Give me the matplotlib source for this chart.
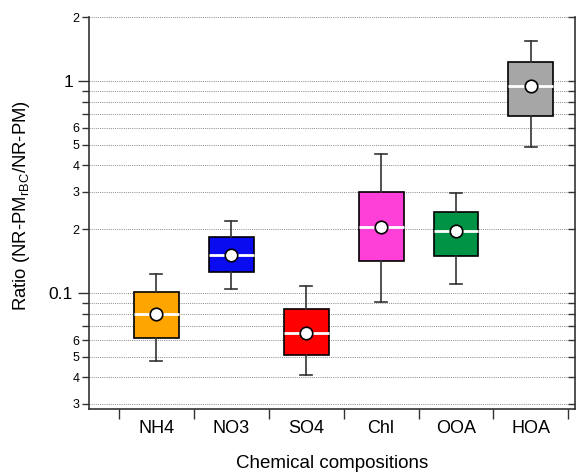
import matplotlib
matplotlib.use("Agg")
import matplotlib.pyplot as plt
from matplotlib.ticker import FixedLocator, FixedFormatter, NullFormatter

categories = ["NH4", "NO3", "SO4", "Chl", "OOA", "HOA"]
whisker_low = [0.048, 0.104, 0.041, 0.091, 0.110, 0.486]
q1 = [0.0615, 0.125, 0.0512, 0.142, 0.150, 0.681]
median = [0.080, 0.151, 0.065, 0.204, 0.195, 0.947]
q3 = [0.1015, 0.183, 0.0843, 0.301, 0.241, 1.229]
whisker_high = [0.123, 0.219, 0.108, 0.453, 0.297, 1.55]
mean = [0.080, 0.151, 0.065, 0.204, 0.195, 0.950]
colors = ["#FFA500", "#0B0BF0", "#FF0000", "#FF40D8", "#009245", "#A6A6A6"]

major_ticks = [0.1, 1]
major_labels = ["0.1", "1"]
minor_ticks = [0.03, 0.04, 0.05, 0.06, 0.07, 0.08, 0.09,
               0.2, 0.3, 0.4, 0.5, 0.6, 0.7, 0.8, 0.9, 2]
minor_labels = ["3", "4", "5", "6", "", "", "",
                "2", "3", "4", "5", "6", "", "", "", "2"]

plt.rcParams['font.family'] = ['Liberation Sans', 'DejaVu Sans']
plt.rcParams['mathtext.fontset'] = 'custom'
plt.rcParams['mathtext.rm'] = 'Liberation Sans'
plt.rcParams['mathtext.it'] = 'Liberation Sans'

fig = plt.figure(figsize=(5.78, 4.76), dpi=100)
ax = fig.add_axes([0.154, 0.141, 0.841, 0.823])

stats = []
for i, c in enumerate(categories):
    stats.append(dict(label=c, whislo=whisker_low[i], q1=q1[i], med=median[i],
                      q3=q3[i], whishi=whisker_high[i], mean=mean[i], fliers=[]))

bp = ax.bxp(stats, positions=range(len(categories)), widths=0.6, capwidths=0.16,
            patch_artist=True, showmeans=True, showfliers=False,
            boxprops=dict(edgecolor="black", linewidth=1.2),
            whiskerprops=dict(color="#333333", linewidth=1.2),
            capprops=dict(color="#333333", linewidth=1.2),
            medianprops=dict(color="white", linewidth=2),
            meanprops=dict(marker="o", markerfacecolor="white",
                           markeredgecolor="black", markersize=9,
                           markeredgewidth=1.2))
for patch, col in zip(bp["boxes"], colors):
    patch.set_facecolor(col)

ax.set_yscale('log')
ax.set_ylim(0.0284, 2)
ax.set_xlim(-0.90, 5.59)

ax.yaxis.set_major_locator(FixedLocator(major_ticks))
ax.yaxis.set_major_formatter(FixedFormatter(major_labels))
ax.yaxis.set_minor_locator(FixedLocator(minor_ticks))
ax.yaxis.set_minor_formatter(FixedFormatter(minor_labels))
ax.tick_params(axis='y', which='major', labelsize=12.5, length=8, width=1, color="#333333")
ax.tick_params(axis='y', which='minor', labelsize=9, length=5, width=1, color="#333333", pad=2)

ax.grid(True, which='both', axis='y', linestyle=(0, (1, 1.2)), color="#888888", linewidth=0.7)
ax.set_axisbelow(True)

# x ticks between categories, labels centered
ax.set_xticks([i - 0.5 for i in range(len(categories) + 1)])
ax.set_xticklabels([])
ax.xaxis.set_minor_locator(FixedLocator(list(range(len(categories)))))
ax.xaxis.set_minor_formatter(FixedFormatter(categories))
ax.tick_params(axis='x', which='major', length=7, width=1, color="#333333")
ax.tick_params(axis='x', which='minor', length=0, labelsize=13, pad=8)

for s in ["left", "bottom", "right"]:
    ax.spines[s].set_color("#333333")
    ax.spines[s].set_linewidth(1.2)
ax.spines["top"].set_visible(False)

ax2 = ax.twinx()
ax2.set_yscale('log')
ax2.set_ylim(ax.get_ylim())
ax2.yaxis.set_major_locator(FixedLocator(major_ticks))
ax2.yaxis.set_minor_locator(FixedLocator(minor_ticks))
ax2.yaxis.set_major_formatter(NullFormatter())
ax2.yaxis.set_minor_formatter(NullFormatter())
ax2.tick_params(axis='y', which='both', direction='in', length=5, width=1, color="#333333")
for s in ["left", "bottom", "top", "right"]:
    ax2.spines[s].set_visible(False)

ax.set_ylabel(r"Ratio (NR-PM$_{\mathrm{rBC}}$/NR-PM)", fontsize=13.3)
ax.yaxis.set_label_coords(-0.117, 0.52)
ax.set_xlabel("Chemical compositions", fontsize=13.5, labelpad=13)

fig.savefig("out.png", dpi=100)
